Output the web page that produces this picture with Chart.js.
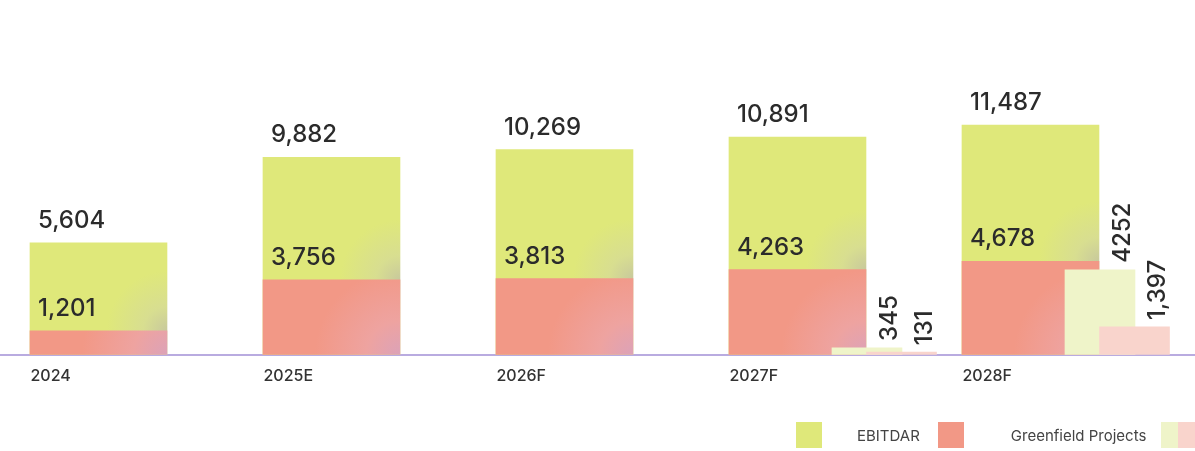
<!DOCTYPE html>
<html>
<head>
<meta charset="utf-8">
<script src="https://cdn.jsdelivr.net/npm/chart.js@4.4.1/dist/chart.umd.min.js"></script>
<style>
  html, body { margin: 0; padding: 0; background: #fff; }
  #wrap { position: relative; width: 1195px; height: 451px; overflow: hidden; }
  #legend { position: absolute; left: 796px; top: 422px; width: 420px; height: 26px; display: flex; align-items: center;
            white-space: nowrap; font-family: Inter, "Noto Sans", sans-serif; font-size: 15px; color: #444; }
  #legend .box { width: 26px; height: 26px; flex: none; }
  #legend .half { width: 17px; height: 26px; flex: none; }
  #legend span { flex: none; }
</style>
</head>
<body>
<div id="wrap">
  <canvas id="canvas" width="1195" height="451"></canvas>
  <div id="legend"></div>
</div>
<script>
const years = ["2024", "2025E", "2026F", "2027F", "2028F"];
const ebitdar = [5604, 9882, 10269, 10891, 11487];
const inner = [1201, 3756, 3813, 4263, 4678];
const gfGreen = [null, null, null, 345, 4252];
const gfPink = [null, null, null, 131, 1397];
const gfGreenText = [null, null, null, "345", "4252"];
const gfPinkText = [null, null, null, "131", "1,397"];

const GREEN = "#dfe87a";
const RED = "#f29886";
const LIGHT_GREEN = "#eff4c9";
const LIGHT_PINK = "#f9d4cc";
const MAIN_W = 137;
const GF_W = 70;

const fmt = (v) => v.toLocaleString("en-US");

const points = (vals) => vals.map((v, i) => ({ x: i, y: v })).filter(p => p.y !== null);
const texts = (vals, t) => vals.map((v, i) => t[i]).filter(s => s !== null);

// soft shading in the bottom-right corner of the main bars
const shade = (which) => (ctx) => {
  const flat = which === "green" ? GREEN : RED;
  const { chart, dataIndex } = ctx;
  const sx = chart.scales.x, sy = chart.scales.y;
  if (!sx || !sy || dataIndex === undefined) return flat;
  const right = sx.getPixelForValue(dataIndex) + MAIN_W / 2;
  const y = sy.getPixelForValue(which === "green" ? inner[dataIndex] : 0);
  if (!Number.isFinite(right) || !Number.isFinite(y)) return flat;
  const c = chart.ctx;
  if (which === "green") {
    const g = c.createRadialGradient(right, y, 0, right, y, 60);
    g.addColorStop(0, "#c8c99c");
    g.addColorStop(0.4, "#d8de90");
    g.addColorStop(1, GREEN);
    return g;
  }
  const g = c.createRadialGradient(right, y, 0, right, y, 85);
  g.addColorStop(0, "#dca2b8");
  g.addColorStop(0.4, "#eea3a0");
  g.addColorStop(1, RED);
  return g;
};

const labelPlugin = {
  id: "barLabels",
  afterDatasetsDraw(chart) {
    const c = chart.ctx;
    c.save();
    c.fillStyle = "#2b2b2b";
    c.font = "500 24px Inter";
    c.textAlign = "left";
    c.textBaseline = "alphabetic";
    chart.data.datasets.forEach((ds, di) => {
      const meta = chart.getDatasetMeta(di);
      meta.data.forEach((bar, j) => {
        const txt = ds.texts[j];
        if (ds.rotated) {
          c.save();
          c.translate(bar.x + bar.width / 2 - 12, bar.y - 7);
          c.rotate(-Math.PI / 2);
          c.textBaseline = "middle";
          c.fillText(txt, 0, 0);
          c.restore();
        } else {
          c.fillText(txt, bar.x - bar.width / 2 + 8, bar.y - 15);
        }
      });
    });
    c.restore();
  }
};

const canvas = document.getElementById("canvas").getContext("2d");

new Chart(canvas, {
  type: "bar",
  data: {
    datasets: [
      {
        label: "Greenfield (pink)",
        data: points(gfPink),
        texts: texts(gfPink, gfPinkText),
        rotated: true,
        xAxisID: "xp",
        backgroundColor: LIGHT_PINK,
        barThickness: GF_W,
        order: 0
      },
      {
        label: "Greenfield (green)",
        data: points(gfGreen),
        texts: texts(gfGreen, gfGreenText),
        rotated: true,
        xAxisID: "xg",
        backgroundColor: LIGHT_GREEN,
        barThickness: GF_W,
        order: 1
      },
      {
        label: "Greenfield Projects",
        data: points(inner),
        texts: inner.map(fmt),
        xAxisID: "x",
        backgroundColor: shade("red"),
        barThickness: MAIN_W,
        order: 2
      },
      {
        label: "EBITDAR",
        data: points(ebitdar),
        texts: ebitdar.map(fmt),
        xAxisID: "x",
        backgroundColor: shade("green"),
        barThickness: MAIN_W,
        order: 3
      }
    ]
  },
  options: {
    responsive: false,
    animation: false,
    datasets: { bar: { grouped: false } },
    layout: { padding: { top: 15, bottom: 53, left: 0, right: 0 } },
    plugins: { legend: { display: false }, tooltip: { enabled: false } },
    scales: {
      x: {
        type: "linear",
        offset: false,
        min: -0.4227,
        max: 4.7061,
        afterBuildTicks: (s) => { s.ticks = years.map((_, i) => ({ value: i })); },
        grid: { display: false, drawTicks: false },
        border: { color: "#b9abe0", width: 2 },
        ticks: {
          autoSkip: false,
          maxRotation: 0,
          align: "start",
          labelOffset: -68,
          padding: 12,
          color: "#333",
          font: { family: "Inter", size: 16, weight: "500" },
          callback: (v) => years[v] ?? ""
        }
      },
      xg: { type: "linear", offset: false, display: false, min: -0.7210, max: 4.4078 },
      xp: { type: "linear", offset: false, display: false, min: -0.8691, max: 4.2597 },
      y: { display: false, min: 0, max: 17000 }
    }
  },
  plugins: [labelPlugin]
});

// legend
const legend = document.getElementById("legend");
legend.innerHTML =
  `<div class="box" style="background:${GREEN}"></div>` +
  `<span style="margin-left:35px">EBITDAR</span>` +
  `<div class="box" style="background:${RED};margin-left:18px"></div>` +
  `<span style="margin-left:47px">Greenfield Projects</span>` +
  `<div class="half" style="background:${LIGHT_GREEN};margin-left:15px"></div>` +
  `<div class="half" style="background:${LIGHT_PINK}"></div>`;
</script>
</body>
</html>
